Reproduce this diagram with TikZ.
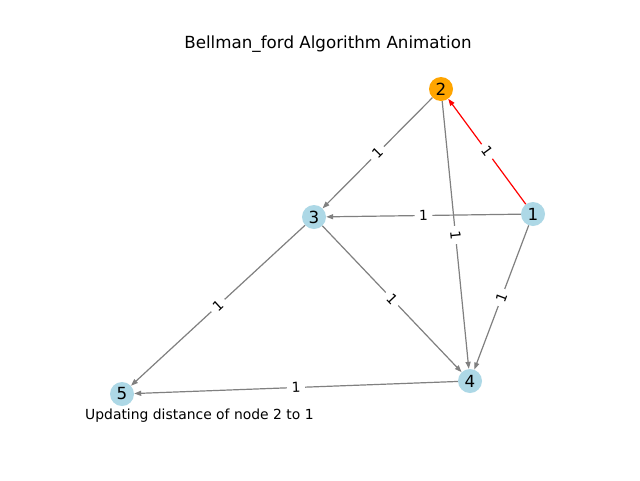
\documentclass[tikz,border=0pt]{standalone}
\usepackage{fontspec}
\setmainfont{DejaVu Sans}
\usetikzlibrary{arrows.meta}
\definecolor{nodeblue}{HTML}{ADD8E6}
\definecolor{nodeorange}{HTML}{FFA500}
\definecolor{edgegray}{HTML}{808080}
\definecolor{edgered}{HTML}{FF0000}
\begin{document}
\begin{tikzpicture}[x=1pt,y=-1pt,
  vert/.style={circle,fill=nodeblue,minimum size=24pt,inner sep=0pt,font=\fontsize{16.7}{18}\selectfont},
  hot/.style={vert,fill=nodeorange},
  edge/.style={draw=edgegray,line width=1.2pt,-{Triangle[length=7pt,width=5pt]}},
  redge/.style={edge,draw=edgered},
  wlab/.style={fill=white,inner xsep=4.5pt,inner ysep=2.5pt,rounded corners=2pt,font=\fontsize{13.9}{15}\selectfont,sloped,midway,text=black},
  txt/.style={font=\fontsize{13.9}{15}\selectfont,inner sep=0pt}]
\useasboundingbox (0,0) rectangle (640,480);
\fill[white] (0,0) rectangle (640,480);
\node[txt,font=\fontsize{16.7}{18}\selectfont] (title) at (328,44) {Bellman\_ford Algorithm Animation};
\node[hot] (n2) at (441,89) {2};
\node[vert] (n3) at (314,217) {3};
\node[vert] (n1) at (533,214) {1};
\node[vert] (n4) at (470,381) {4};
\node[vert] (n5) at (122,394) {5};
\draw[edge] (n2) -- node[wlab] {1} (n3);
\draw[edge] (n2) -- node[wlab] {1} (n4);
\draw[redge] (n1) -- node[wlab] {1} (n2);
\draw[edge] (n1) -- node[wlab] {1} (n3);
\draw[edge] (n1) -- node[wlab] {1} (n4);
\draw[edge] (n3) -- node[wlab] {1} (n4);
\draw[edge] (n3) -- node[wlab] {1} (n5);
\draw[edge] (n4) -- node[wlab] {1} (n5);
\node[txt,anchor=west] (status) at (85,416) {Updating distance of node 2 to 1};
\end{tikzpicture}
\end{document}
